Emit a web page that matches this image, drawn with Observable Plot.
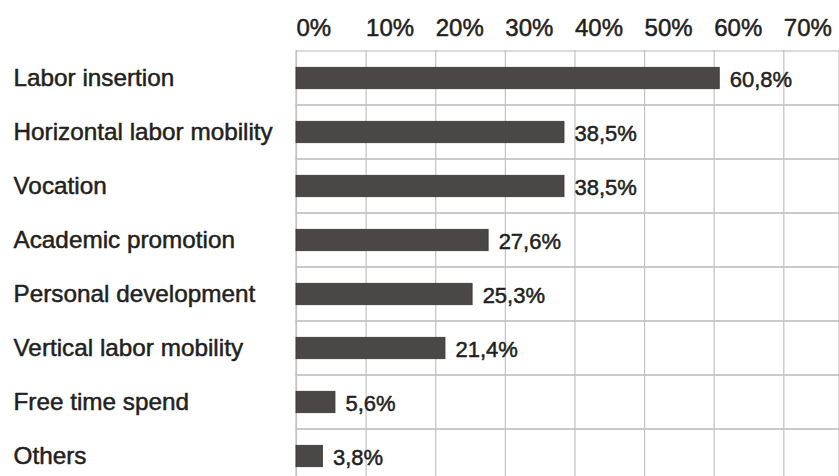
<!DOCTYPE html>
<html>
<head>
<meta charset="utf-8">
<script src="https://cdn.jsdelivr.net/npm/d3@7"></script>
<script src="https://cdn.jsdelivr.net/npm/@observablehq/plot@0.6"></script>
<style>
  html, body { margin: 0; padding: 0; background: #fff; overflow: hidden; }
  svg { font-family: "Liberation Sans", Arial, sans-serif; }
</style>
</head>
<body>
<div id="chart"></div>
<script>
const categories = [
  "Labor insertion",
  "Horizontal labor mobility",
  "Vocation",
  "Academic promotion",
  "Personal development",
  "Vertical labor mobility",
  "Free time spend",
  "Others"
];
const values = [60.8, 38.5, 38.5, 27.6, 25.3, 21.4, 5.6, 3.8];
const valueLabels = ["60,8%", "38,5%", "38,5%", "27,6%", "25,3%", "21,4%", "5,6%", "3,8%"];
const xTicks = [0, 10, 20, 30, 40, 50, 60, 70];
const xTickLabels = ["0%", "10%", "20%", "30%", "40%", "50%", "60%", "70%"];

const data = categories.map((c, i) => ({category: c, value: values[i], label: valueLabels[i]}));
const ticks = xTicks.map((t, i) => ({t, label: xTickLabels[i]}));

const gridColor = "#c2c2c2";
const textColor = "#231f20";
const heavy = {stroke: textColor, strokeWidth: 0.5, paintOrder: "fill"};

const chart = Plot.plot({
  width: 839,
  height: 483,
  marginTop: 50,
  marginBottom: 0,
  marginLeft: 296,
  marginRight: 0,
  x: {domain: [0, 78], axis: null},
  y: {domain: categories, padding: 0, axis: null},
  marks: [
    Plot.barX(data, {y: "category", x1: 0, x2: 78, fill: "none", stroke: gridColor, strokeWidth: 1.2}),
    Plot.ruleX(ticks, {x: "t", stroke: gridColor, strokeWidth: 1.2}),
    Plot.barX(data, {y: "category", x: "value", fill: "#4b4747", stroke: "#3a3636", strokeWidth: 0.8, insetTop: 16.3, insetBottom: 16.3}),
    Plot.text(data, {y: "category", x: "value", text: "label", textAnchor: "start", lineAnchor: "middle", dx: 10, dy: 1, fontSize: 22, fill: textColor, ...heavy}),
    Plot.text(data, {y: "category", frameAnchor: "left", text: "category", textAnchor: "start", lineAnchor: "middle", dx: -283, dy: 0, fontSize: 24.3, fill: textColor, ...heavy}),
    Plot.text(ticks, {x: "t", frameAnchor: "top", text: "label", textAnchor: "start", lineAnchor: "middle", dx: 0, dy: -22, fontSize: 24, fill: textColor, ...heavy})
  ]
});
document.getElementById("chart").appendChild(chart);
</script>
</body>
</html>
